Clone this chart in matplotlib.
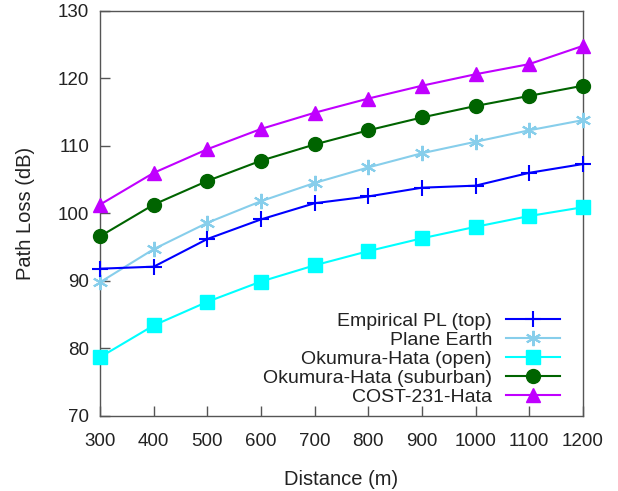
import matplotlib
matplotlib.use("Agg")
import matplotlib.pyplot as plt

plt.rcParams['font.family'] = ['Liberation Sans', 'DejaVu Sans']

distance = [300, 400, 500, 600, 700, 800, 900, 1000, 1100, 1200]
empirical = [91.8, 92.1, 96.2, 99.1, 101.5, 102.5, 103.8, 104.1, 106.0, 107.3]
plane_earth = [89.8, 94.7, 98.6, 101.8, 104.5, 106.8, 108.9, 110.6, 112.3, 113.8]
hata_open = [78.7, 83.4, 86.9, 89.9, 92.3, 94.4, 96.3, 98.0, 99.6, 100.9]
hata_suburban = [96.6, 101.3, 104.8, 107.8, 110.2, 112.3, 114.2, 115.9, 117.4, 118.9]
cost231 = [101.3, 106.0, 109.5, 112.5, 114.9, 117.0, 118.9, 120.6, 122.1, 124.8]
labels = ["Empirical PL (top)", "Plane Earth", "Okumura-Hata (open)",
          "Okumura-Hata (suburban)", "COST-231-Hata"]
yticks = [70, 80, 90, 100, 110, 120, 130]

fig = plt.figure(figsize=(6.18, 4.91), dpi=100)
ax = fig.add_axes([0.162, 0.153, 0.781, 0.825])

ax.plot(distance, empirical, color='#0000ff', marker='+', markersize=11, mew=1.5, lw=1.5, label=labels[0], clip_on=False, zorder=5)
ax.plot(distance, plane_earth, color='#87ceeb', marker=(6, 2, 0), markersize=11, mew=1.5, lw=1.5, label=labels[1], clip_on=False, zorder=4)
ax.plot(distance, hata_open, color='#00ffff', marker='s', markersize=9.5, lw=1.5, label=labels[2], clip_on=False, zorder=3)
ax.plot(distance, hata_suburban, color='#006400', marker='o', markersize=10, lw=1.5, label=labels[3], clip_on=False, zorder=3)
ax.plot(distance, cost231, color='#c000ff', marker='^', markersize=10.5, lw=1.5, label=labels[4], clip_on=False, zorder=3)

ax.set_xlim(300, 1200)
ax.set_ylim(70, 130)
ax.set_xticks(distance)
ax.set_yticks(yticks)
ax.tick_params(direction='in', length=7, width=1, colors='#555555', labelcolor='#222222',
               labelsize=13.5, top=False, right=False)
ax.tick_params(axis='x', pad=12)
ax.tick_params(axis='y', pad=8)
for s in ax.spines.values():
    s.set_color('#555555')
    s.set_linewidth(1)

ax.set_xlabel("Distance (m)", fontsize=14.5, labelpad=15, color='#222222')
ax.set_ylabel("Path Loss (dB)", fontsize=14.5, labelpad=16, color='#222222')

ax.legend(loc='lower right', bbox_to_anchor=(0.973, 0.0), markerfirst=False, frameon=False,
          fontsize=14, handlelength=2.8, labelspacing=0.07, handletextpad=0.7,
          borderaxespad=0.1, labelcolor='#222222')

fig.savefig("out.png", dpi=100)
